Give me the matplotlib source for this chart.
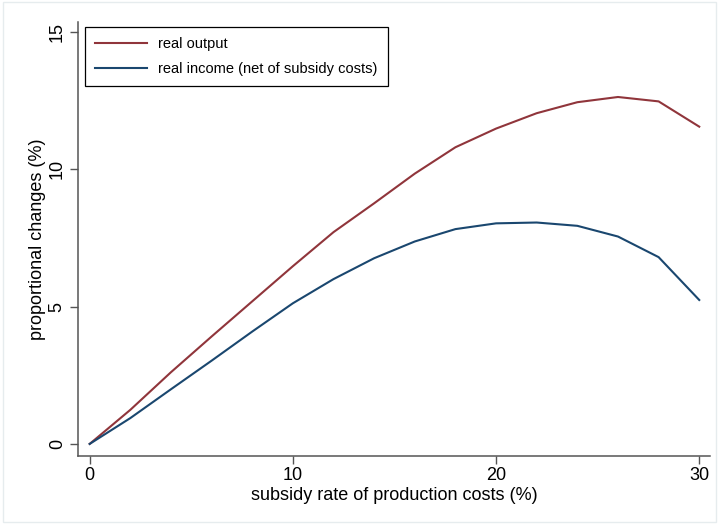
import matplotlib
matplotlib.use("Agg")
from matplotlib import pyplot as plt
from matplotlib.patches import Rectangle

plt.rcParams['font.family'] = ['Liberation Sans', 'DejaVu Sans']

# subsidy rate (%) and the two simulated responses (%)
subsidy_rate = [0, 2, 4, 6, 8, 10, 12, 14, 16, 18, 20, 22, 24, 26, 28, 30]
real_output = [0, 1.24, 2.61, 3.91, 5.19, 6.47, 7.71, 8.76, 9.84, 10.80,
               11.48, 12.04, 12.44, 12.63, 12.47, 11.55]
real_income = [0, 0.94, 1.99, 3.03, 4.09, 5.12, 6.00, 6.76, 7.37, 7.82,
               8.03, 8.06, 7.94, 7.55, 6.80, 5.24]

x_ticks = [0, 10, 20, 30]
y_ticks = [0, 5, 10, 15]

maroon = '#90353B'
navy = '#1A476F'

fig = plt.figure(figsize=(7.19, 5.24), dpi=100)
fig.patches.append(Rectangle((0.004, 0.004), 0.992, 0.992, transform=fig.transFigure,
                             fill=False, edgecolor='#e6ecee', linewidth=1))
ax = fig.add_axes([0.1089, 0.1303, 0.8786, 0.8277])

ax.plot(subsidy_rate, real_output, color=maroon, linewidth=1.5, label='real output')
ax.plot(subsidy_rate, real_income, color=navy, linewidth=1.5,
        label='real income (net of subsidy costs)')

ax.set_xlim(-0.56, 30.53)
ax.set_ylim(-0.43, 15.36)
ax.set_xticks(x_ticks)
ax.set_yticks(y_ticks)

for side in ['top', 'right']:
    ax.spines[side].set_visible(False)
for side in ['left', 'bottom']:
    ax.spines[side].set_color('#555555')
    ax.spines[side].set_linewidth(1.1)

ax.tick_params(axis='both', direction='out', length=5.5, width=1, color='#555555',
               labelsize=13)
ax.tick_params(axis='x', pad=2.5)
ax.tick_params(axis='y', pad=3.5)
for lab in ax.get_yticklabels():
    lab.set_rotation(90)
    lab.set_va('center')

ax.set_xlabel('subsidy rate of production costs (%)', fontsize=13, labelpad=2)
ax.set_ylabel('proportional changes (%)', fontsize=13, labelpad=2)

leg = ax.legend(loc='upper left', bbox_to_anchor=(0.0106, 0.9885), borderaxespad=0,
                fontsize=10.5, frameon=True, fancybox=False, edgecolor='black',
                framealpha=1, handlelength=3.6, handletextpad=0.75, borderpad=0.68,
                labelspacing=0.75)
leg.get_frame().set_linewidth(0.9)

fig.savefig('out.png', dpi=100)
